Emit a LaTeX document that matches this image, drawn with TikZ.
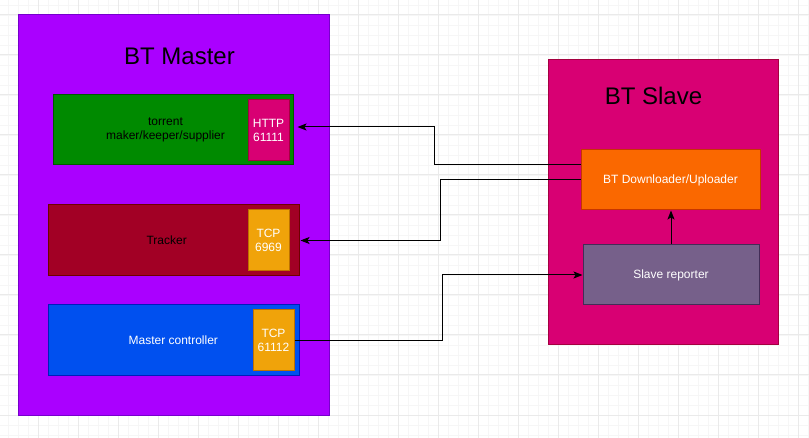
\documentclass[tikz,border=0pt]{standalone}
\usepackage{fontspec}
\setmainfont{Liberation Sans}
\usetikzlibrary{arrows.meta}
\definecolor{cMaster}{HTML}{AA00FF}\definecolor{cMasterD}{HTML}{7700CC}
\definecolor{cGreen}{HTML}{008A00}\definecolor{cGreenD}{HTML}{005700}
\definecolor{cMag}{HTML}{D80073}\definecolor{cMagD}{HTML}{A50040}
\definecolor{cRed}{HTML}{A20025}\definecolor{cRedD}{HTML}{6F0000}
\definecolor{cAmber}{HTML}{F0A30A}\definecolor{cAmberD}{HTML}{BD7000}
\definecolor{cBlue}{HTML}{0050EF}\definecolor{cBlueD}{HTML}{001DBC}
\definecolor{cOrange}{HTML}{FA6800}\definecolor{cOrangeD}{HTML}{C73500}
\definecolor{cMauve}{HTML}{76608A}\definecolor{cMauveD}{HTML}{432D57}
\definecolor{gridMinor}{HTML}{F6F6F6}\definecolor{gridMajor}{HTML}{EAEAEA}
\begin{document}
\begin{tikzpicture}[x=1pt,y=-1pt,
  box/.style={draw, line width=1pt, inner sep=0pt, align=center, font=\fontsize{12}{14}\selectfont},
  port/.style={box, fill=cAmber, draw=cAmberD, text=white, minimum width=41pt, minimum height=61pt},
  title/.style={font=\fontsize{24}{28}\selectfont, text=black},
  arr/.style={line width=1pt, -{Stealth[length=9pt,width=7pt,inset=2pt]}}]
\useasboundingbox (0,0) rectangle (809,438);
\fill[white] (0,0) rectangle (809,438);
% grid
\foreach \x in {8,18,...,808} \draw[gridMinor, line width=0.8pt] (\x,0) -- (\x,438);
\foreach \y in {5,15,...,435} \draw[gridMinor, line width=0.8pt] (0,\y) -- (809,\y);
\foreach \x in {38,78,...,798} \draw[gridMajor, line width=1pt] (\x,0) -- (\x,438);
\foreach \y in {15,55,...,415} \draw[gridMajor, line width=1pt] (0,\y) -- (809,\y);
% containers
\node[box, fill=cMaster, draw=cMasterD, minimum width=311pt, minimum height=400pt] (master) at (173.5,215) {};
\node[title] (mtitle) at (179.5,56) {BT Master};
\node[box, fill=cMag, draw=cMagD, minimum width=230pt, minimum height=285pt] (slave) at (663,202.5) {};
\node[title] (stitle) at (653.5,96) {BT Slave};
% master parts
\node[box, fill=cGreen, draw=cGreenD, minimum width=240pt, minimum height=70pt,
  label={[xshift=-7.5pt, font=\fontsize{12}{14}\selectfont, align=center, text=black]center:torrent\\maker/keeper/supplier}] (torrent) at (173,130) {};
\node[port, fill=cMag, draw=cMagD] (http) at (268.5,130.5) {HTTP\\61111};
\node[box, fill=cRed, draw=cRedD, minimum width=251pt, minimum height=71pt,
  label={[xshift=-6.8pt, font=\fontsize{12}{14}\selectfont, text=black]center:Tracker}] (tracker) at (173.5,240.5) {};
\node[port] (tcpa) at (268.5,240.5) {TCP\\6969};
\node[box, fill=cBlue, draw=cBlueD, minimum width=251pt, minimum height=71pt,
  label={[xshift=-0.2pt, font=\fontsize{12}{14}\selectfont, text=white]center:Master controller}] (mc) at (173.5,340.5) {};
\node[port] (tcpb) at (273.5,340.5) {TCP\\61112};
% slave parts
\node[box, fill=cOrange, draw=cOrangeD, text=white, minimum width=179pt, minimum height=60pt] (dl) at (670.5,180) {BT Downloader/Uploader};
\node[box, fill=cMauve, draw=cMauveD, text=white, minimum width=176pt, minimum height=60pt] (rep) at (671,275) {Slave reporter};
% connectors
\draw[arr, shorten >=4pt] ([yshift=15pt]dl.west) -- ++(-146,0) |- ([yshift=3pt]torrent.east);
\draw[arr, shorten >=1pt] (dl.west) -- ++(-140,0) |- (tracker.east);
\draw[arr] (tcpb.east) -- ++(148,0) |- (rep.west);
\draw[arr] (rep.north) -- (rep.north |- dl.south);
\end{tikzpicture}
\end{document}
